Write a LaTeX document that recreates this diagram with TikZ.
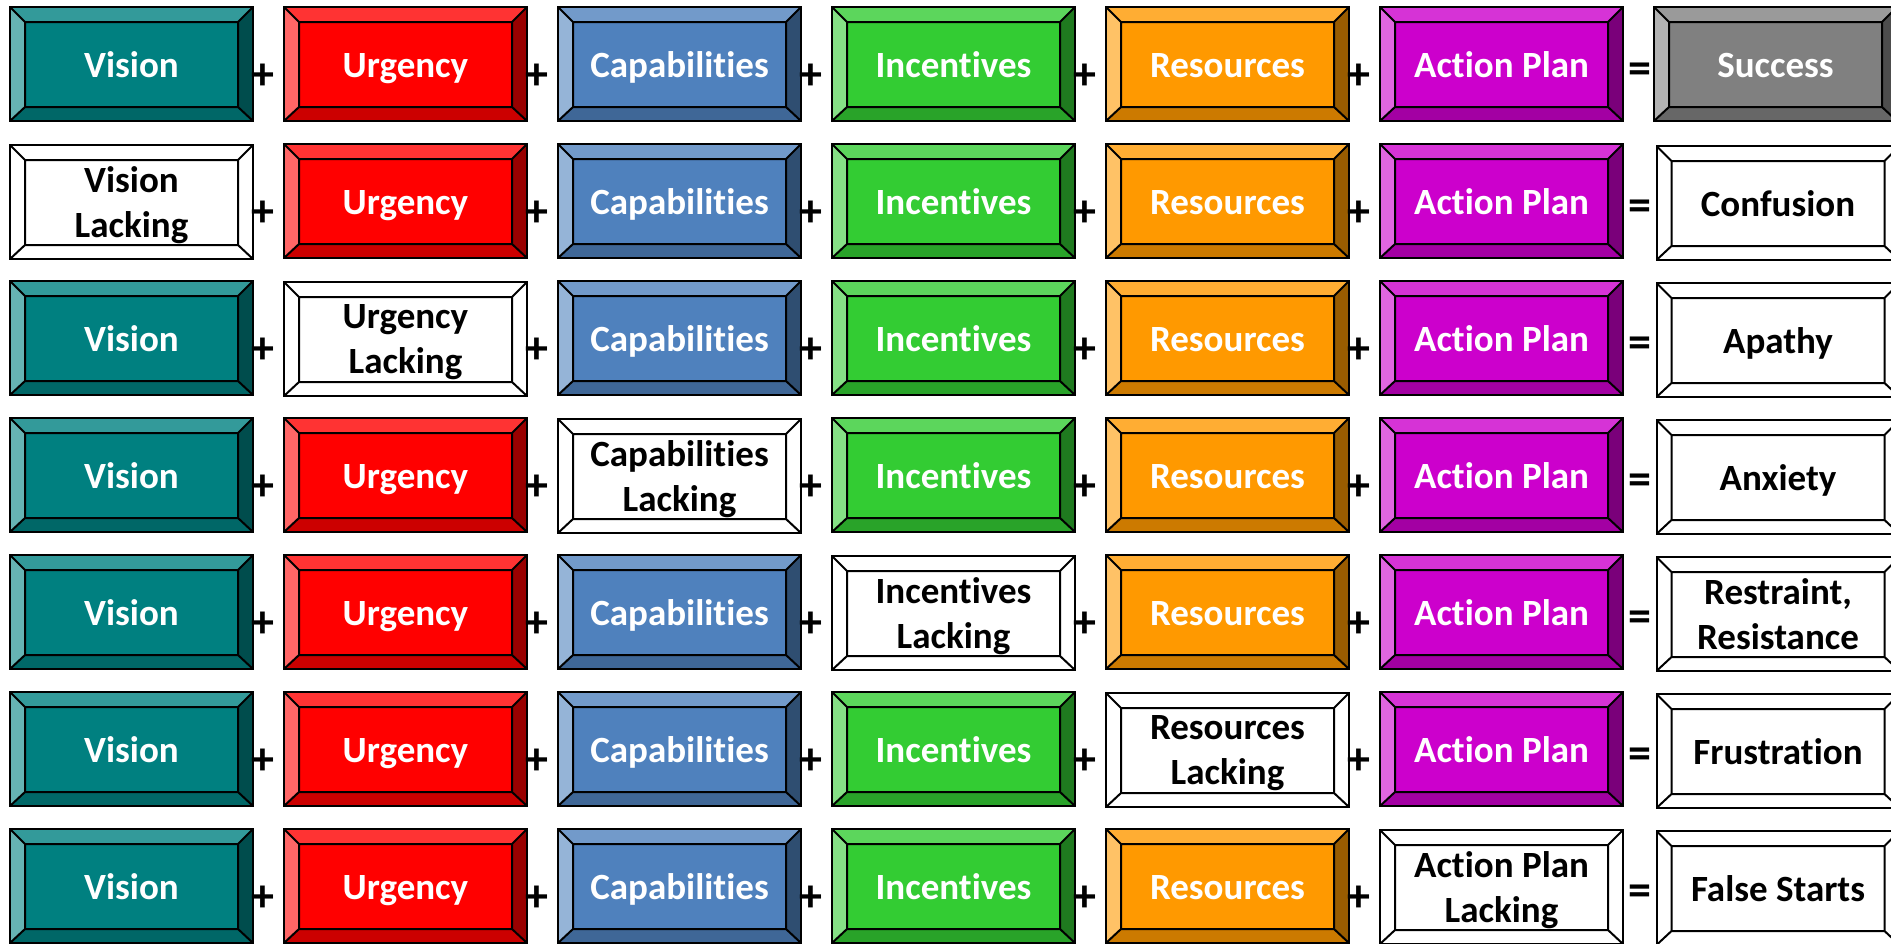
\documentclass[tikz,border=0pt]{standalone}
\usepackage{fontspec}
\setmainfont{Carlito}[Ligatures=CommonOff]
\definecolor{cV}{HTML}{008080}
\definecolor{cU}{HTML}{FF0000}
\definecolor{cC}{HTML}{4F81BD}
\definecolor{cI}{HTML}{33CC33}
\definecolor{cR}{HTML}{FF9900}
\definecolor{cA}{HTML}{CC00CC}
\definecolor{cS}{HTML}{808080}
\newcommand\bevfaces[4]{%
  \coordinate (pA) at (path picture bounding box.north west);
  \coordinate (pB) at (path picture bounding box.north east);
  \coordinate (pC) at (path picture bounding box.south east);
  \coordinate (pD) at (path picture bounding box.south west);
  \coordinate (qA) at ([shift={(15pt,-15pt)}]pA);
  \coordinate (qB) at ([shift={(-15pt,-15pt)}]pB);
  \coordinate (qC) at ([shift={(-15pt,14pt)}]pC);
  \coordinate (qD) at ([shift={(15pt,14pt)}]pD);
  \fill[#1] (pA) -- (pB) -- (qB) -- (qA) -- cycle;
  \fill[#2] (pA) -- (qA) -- (qD) -- (pD) -- cycle;
  \fill[#3] (pD) -- (qD) -- (qC) -- (pC) -- cycle;
  \fill[#4] (pB) -- (pC) -- (qC) -- (qB) -- cycle;
  \draw[line width=2pt,black] (qA) rectangle (qC) (pA) -- (qA) (pB) -- (qB) (pC) -- (qC) (pD) -- (qD);
}
\tikzset{
  bevbase/.style={draw=black, line width=2pt, minimum width=243pt, minimum height=114pt,
    inner sep=0pt, align=center, text depth=0pt, font=\bfseries\fontsize{37}{45}\selectfont},
  oneline/.style={text height=26pt, text depth=0pt},
  bevcol/.style={bevbase, fill=#1, text=white,
    path picture={\bevfaces{#1!80!white}{#1!60!white}{#1!80!black}{#1!60!black}}},
  bevwhite/.style={bevbase, fill=white, text=black,
    path picture={\bevfaces{white}{white}{white}{white}}},
  op/.style={font=\bfseries\fontsize{46}{50}\selectfont, inner sep=0pt, text=black},
}
\begin{document}
\begin{tikzpicture}[x=1pt,y=-1pt]
\useasboundingbox (0,0) rectangle (1891,943);
\clip (0,0) rectangle (1891,943);
\foreach \r in {0,...,6} {
  \foreach \c/\lab/\col in {0/Vision/cV,1/Urgency/cU,2/Capabilities/cC,3/Incentives/cI,4/Resources/cR,5/Action Plan/cA} {
    \ifnum\numexpr\r-1\relax=\c
      \node[bevwhite] (b\r\c) at (131.5+274*\c, 65+137*\r) {\lab\\Lacking};
    \else
      \node[bevcol=\col, oneline] (b\r\c) at (131.5+274*\c, 64+137*\r) {\lab};
    \fi
  }
  \foreach \c in {0,...,4} {
    \node[op] (p\r\c) at (263+274*\c, 77+137*\r) {+};
  }
  \node[op] (e\r) at (1639.5, 73+137*\r) {=};
}
\node[bevcol=cS, oneline] (res0) at (1775.5, 64) {Success};
\foreach \r/\t in {1/Confusion, 2/Apathy, 3/Anxiety, 5/Frustration, 6/False Starts} {
  \node[bevwhite, oneline] (res\r) at (1778, 66+137*\r) {\t};
}
\node[bevwhite] (res4) at (1778, 66+137*4) {Restraint,\\Resistance};
\end{tikzpicture}
\end{document}
